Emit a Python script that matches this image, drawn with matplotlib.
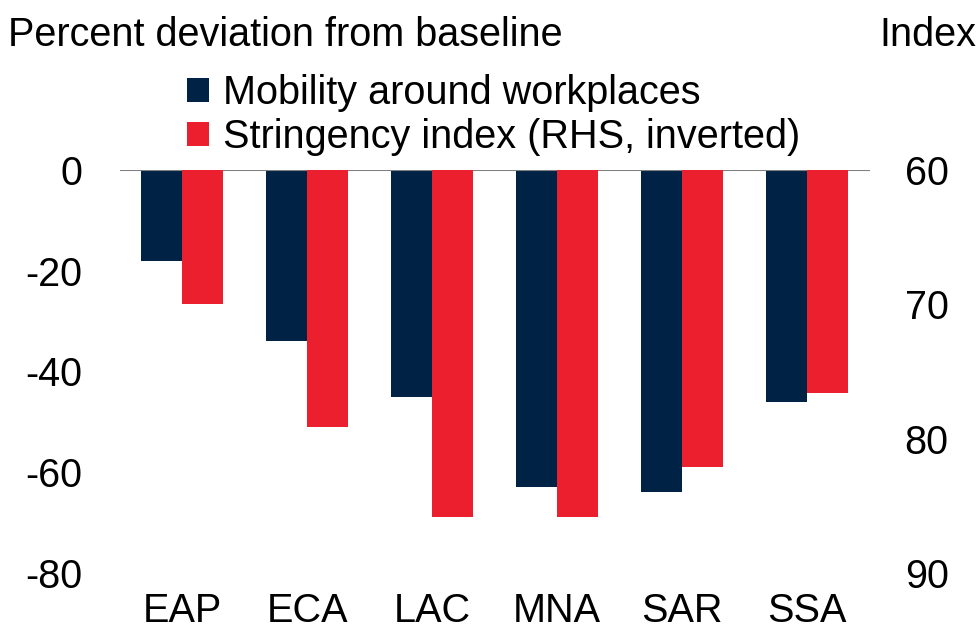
import numpy as np
import matplotlib.pyplot as plt

regions = ['EAP', 'ECA', 'LAC', 'MNA', 'SAR', 'SSA']
mobility = [-18, -34, -45, -63, -64, -46]
stringency = [70.0, 79.1, 85.8, 85.8, 82.1, 76.6]

navy = '#002345'
red = '#EC1F2E'

plt.rcParams['font.family'] = ['Liberation Sans', 'DejaVu Sans']
plt.rcParams['axes.unicode_minus'] = False
fs = 28.5

fig = plt.figure(figsize=(9.8, 6.31), dpi=100)
ax = fig.add_axes([120 / 980, 1 - 573 / 631, 750 / 980, 403 / 631])
ax2 = ax.twinx()

x = np.arange(len(regions))
w = 0.33
ax.bar(x - w / 2, mobility, width=w, color=navy, label='Mobility around workplaces', zorder=2)
ax2.bar(x + w / 2, np.array(stringency) - 60, bottom=60, width=w, color=red,
        label='Stringency index (RHS, inverted)', zorder=2)

ax.set_ylim(-80, 0)
ax.set_yticks([0, -20, -40, -60, -80])
ax2.set_ylim(90, 60)
ax2.set_yticks([60, 70, 80, 90])
ax.set_xlim(-0.496, 5.504)
ax.set_xticks(x)
ax.set_xticklabels(regions)
ax.axhline(0, color='#808080', lw=1.5, zorder=3)

for a in (ax, ax2):
    for s in a.spines.values():
        s.set_visible(False)
    a.tick_params(length=0, labelsize=fs)
ax.tick_params(axis='y', pad=27)
ax.tick_params(axis='x', pad=14)
ax2.tick_params(axis='y', pad=25)

fig.text(8 / 980, 1 - 35 / 631, 'Percent deviation from baseline', fontsize=fs, va='center', ha='left')
fig.text(976 / 980, 1 - 35 / 631, 'Index', fontsize=fs, va='center', ha='right')

h1, l1 = ax.get_legend_handles_labels()
h2, l2 = ax2.get_legend_handles_labels()
fig.legend(h1 + h2, l1 + l2, loc='upper left', bbox_to_anchor=(187 / 980, 1 - 74 / 631),
           frameon=False, fontsize=fs, handlelength=0.55, handleheight=0.55,
           handletextpad=0.35, labelspacing=0.15, borderpad=0, borderaxespad=0)

fig.savefig('out.png', dpi=100)
